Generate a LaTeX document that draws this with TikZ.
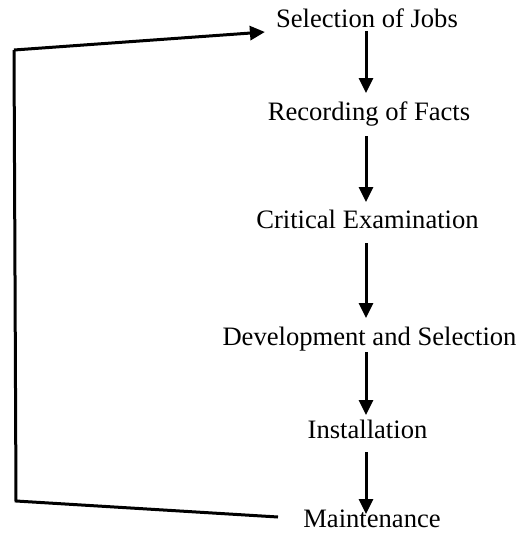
\documentclass[tikz,border=0pt]{standalone}
\usepackage{fontspec}
\setmainfont{Liberation Serif}
\usetikzlibrary{arrows.meta,calc}

\tikzset{
  stage/.style={inner sep=0pt, anchor=base, font=\fontsize{26.6}{30}\selectfont,
                text height=18pt, text depth=6pt},
  flow/.style={line width=3pt, -{Triangle[length=15pt,width=14pt]}},
  loop/.style={line width=3pt, line join=miter}
}

\begin{document}
\begin{tikzpicture}[x=1pt,y=-1pt]
  \useasboundingbox (0,0) rectangle (518,533);

  % process stages, placed by their baselines
  \node[stage] (sel)   at (367,27)  {Selection of Jobs};
  \node[stage] (rec)   at (369,120) {Recording of Facts};
  \node[stage] (crit)  at (367.5,228) {Critical Examination};
  \node[stage] (dev)   at (369.5,345) {Development and Selection};
  \node[stage] (inst)  at (367.5,438) {Installation};
  \node[stage, text depth=2pt] (maint) at (372,527) {Maintenance};

  % column of the downward arrows
  \coordinate (ax) at (366,0);

  \draw[flow] ($(sel.base -| ax)+(0,4)$)   -- ($(rec.base -| ax)+(0,-27)$);
  \draw[flow] ($(rec.base -| ax)+(0,16)$)  -- ($(crit.base -| ax)+(0,-26)$);
  \draw[flow] ($(crit.base -| ax)+(0,15)$) -- ($(dev.base -| ax)+(0,-27)$);
  \draw[flow] ($(dev.base -| ax)+(0,7)$)   -- ($(inst.base -| ax)+(0,-23)$);
  \draw[flow] ($(inst.base -| ax)+(0,14)$) -- ($(maint.base -| ax)+(0,-13)$);

  % feedback loop from Maintenance back to Selection of Jobs
  \coordinate (bl) at (16,501);
  \coordinate (tl) at (14,50);
  \draw[loop] ($(maint.base)+(-94,-10)$) -- (bl) -- (tl);
  \draw[flow] (tl) -- ($(sel.west)+(-11,11)$);
\end{tikzpicture}
\end{document}
